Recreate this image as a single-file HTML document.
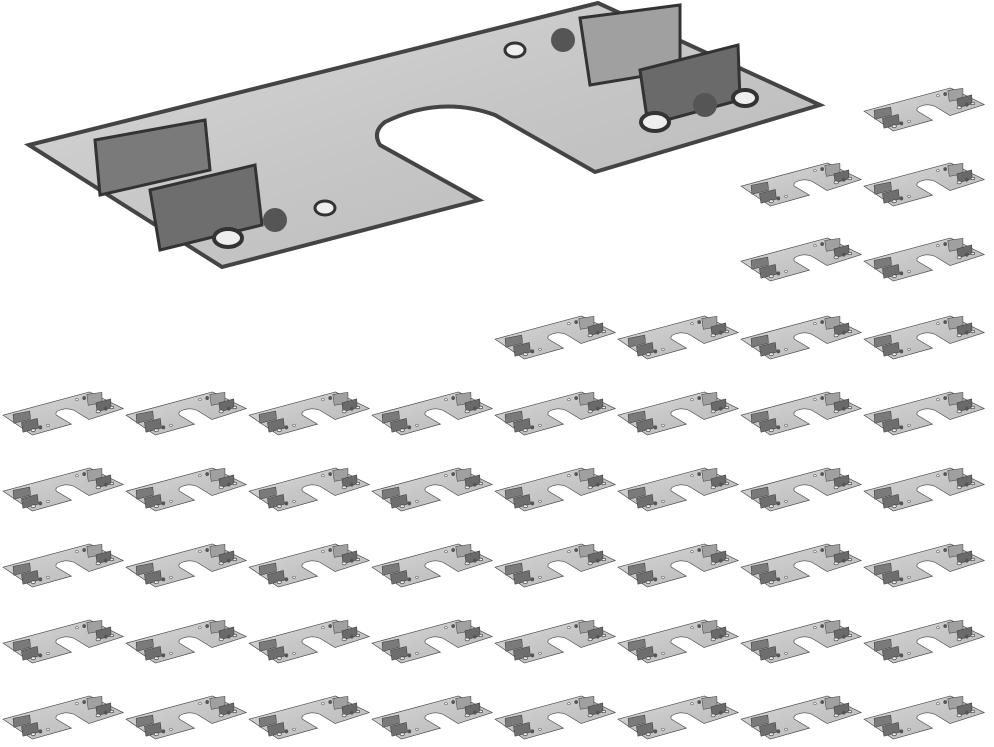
<!DOCTYPE html>
<html><head><meta charset="utf-8"><style>
html,body{margin:0;padding:0;background:#fff;width:994px;height:747px;overflow:hidden}
svg{display:block}
</style></head><body>
<svg width="994" height="747" viewBox="0 0 994 747" xmlns="http://www.w3.org/2000/svg">
<defs>
<linearGradient id="g" x1="0" y1="0" x2="1" y2="1">
<stop offset="0" stop-color="#d8d8d8"/><stop offset="0.5" stop-color="#c6c6c6"/><stop offset="1" stop-color="#b8b8b8"/>
</linearGradient>
<g id="plate">
<path d="M29,145 L598,3 L820,105 L595,172 L495,115 Q440,95 385,122 Q372,132 380,145 L479,200 L222,267 Z" fill="url(#g)" stroke="#444" stroke-width="4"/>
<polygon points="95,140 205,120 210,170 100,195" fill="#7a7a7a" stroke="#333" stroke-width="3"/>
<polygon points="150,190 255,165 262,225 160,250" fill="#6e6e6e" stroke="#333" stroke-width="3"/>
<polygon points="580,18 680,5 680,70 590,85" fill="#a0a0a0" stroke="#333" stroke-width="3"/>
<polygon points="640,70 738,45 740,100 648,125" fill="#6a6a6a" stroke="#333" stroke-width="3"/>
<ellipse cx="228" cy="238" rx="14" ry="9" fill="#eee" stroke="#333" stroke-width="4"/>
<ellipse cx="325" cy="208" rx="10" ry="7" fill="#eee" stroke="#333" stroke-width="3"/>
<ellipse cx="515" cy="50" rx="10" ry="7" fill="#eee" stroke="#333" stroke-width="3"/>
<ellipse cx="655" cy="122" rx="14" ry="9" fill="#eee" stroke="#333" stroke-width="4"/>
<ellipse cx="745" cy="98" rx="12" ry="8" fill="#eee" stroke="#333" stroke-width="4"/>
<circle cx="275" cy="220" r="12" fill="#555"/>
<circle cx="563" cy="40" r="12" fill="#555"/>
<circle cx="705" cy="105" r="12" fill="#555"/>
</g>
<g id="s"><use href="#plate" transform="translate(-4.4,-0.5) scale(0.152,0.163)"/></g>
</defs>
<use href="#plate"/>
<use href="#s" x="864" y="88"/>
<use href="#s" x="741" y="163"/><use href="#s" x="864" y="163"/>
<use href="#s" x="741" y="238"/><use href="#s" x="864" y="238"/>
<use href="#s" x="495" y="316"/><use href="#s" x="618" y="316"/><use href="#s" x="741" y="316"/><use href="#s" x="864" y="316"/>
<g id="row">
<use href="#s" x="3" y="392"/><use href="#s" x="126" y="392"/><use href="#s" x="249" y="392"/><use href="#s" x="372" y="392"/>
<use href="#s" x="495" y="392"/><use href="#s" x="618" y="392"/><use href="#s" x="741" y="392"/><use href="#s" x="864" y="392"/>
</g>
<use href="#row" y="76"/>
<use href="#row" y="152"/>
<use href="#row" y="228"/>
<use href="#row" y="304"/>
</svg>
</body></html>
